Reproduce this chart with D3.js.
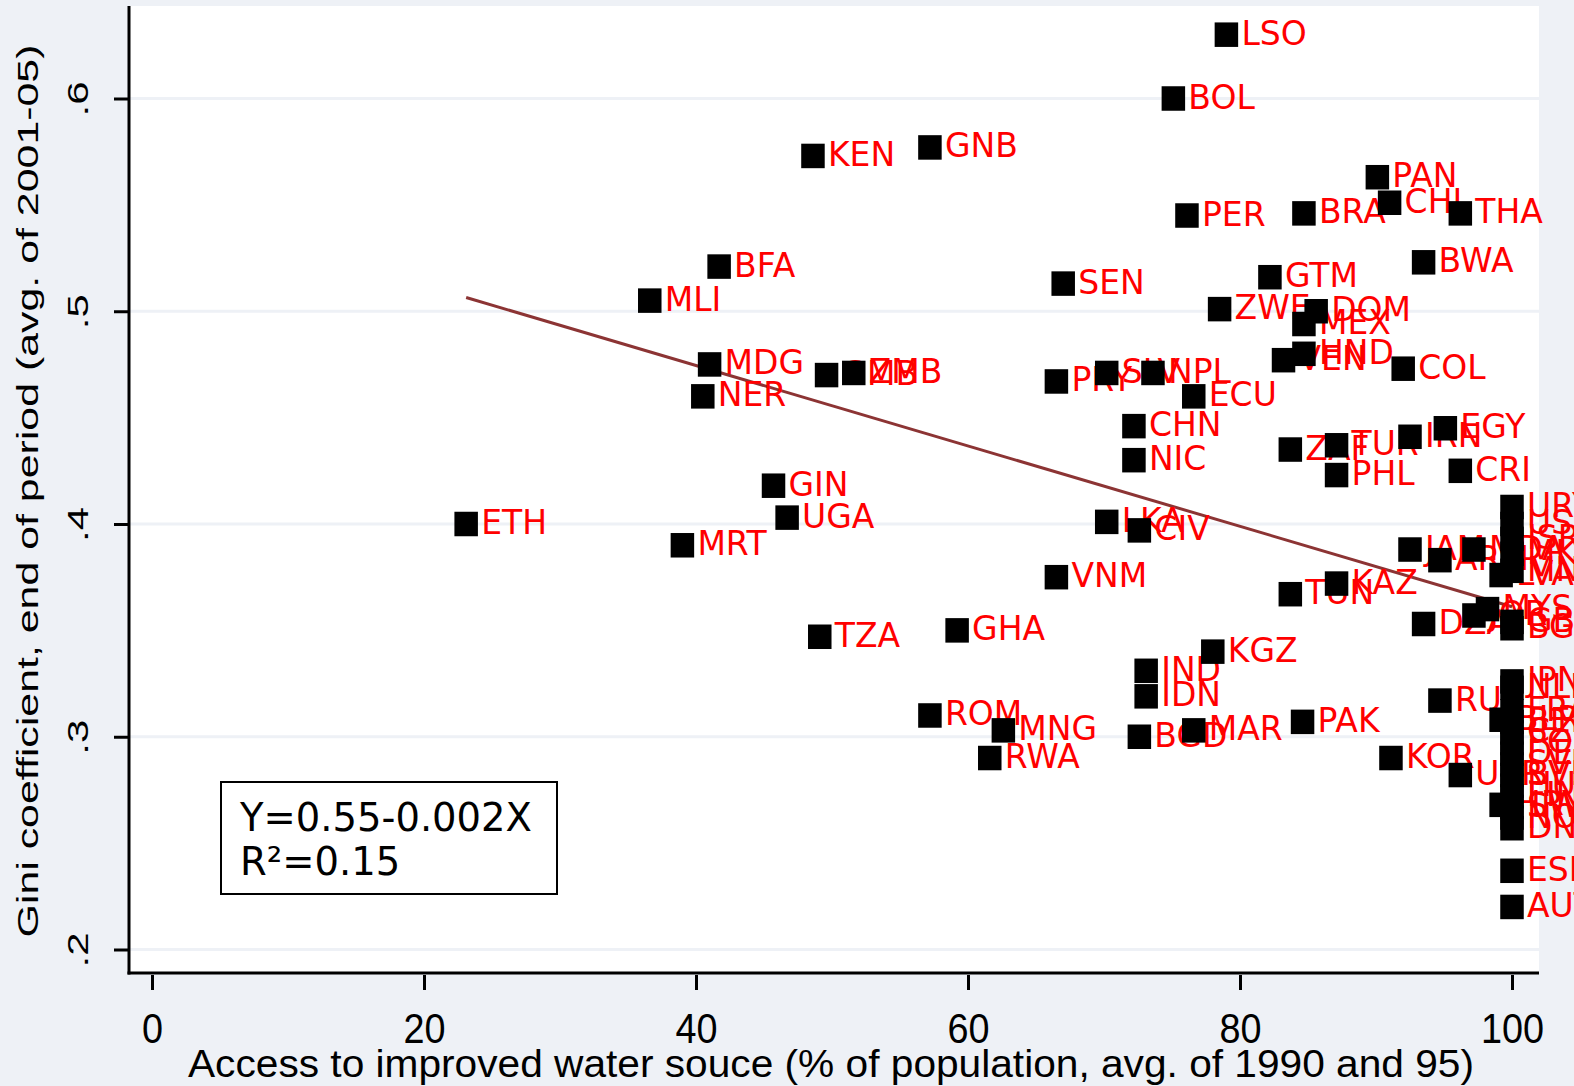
<!DOCTYPE html>
<html><head><meta charset="utf-8">
<script src="https://cdn.jsdelivr.net/npm/d3@7"></script>
<style>body{margin:0;background:#eef1f6;} svg{display:block}</style>
</head><body><svg id="c" width="1574" height="1086"></svg>
<script>
// ---- data ----
const codes = ["ETH","MLI","MRT","NER","MDG","BFA","GIN","UGA","KEN","TZA","GMB","ZMB","GNB","ROM","GHA","RWA","MNG","PRY","VNM","SEN","SLV","LKA","CHN","NIC","CIV","BGD","IND","IDN","NPL","BOL","PER","ECU","MAR","KGZ","ZWE","LSO","GTM","VEN","ZAF","TUN","PAK","BRA","MEX","HND","DOM","TUR","PHL","KAZ","PAN","CHL","KOR","COL","IRN","JAM","BWA","DZA","ARM","RUS","EGY","THA","CRI","UKR","MDA","JOR","MYS","LVA","BLR","HRV",
  "URY","USA","ISR","MKD","MNE","GBR","BGR","JPN","NLD","FRA","BEL","CZE","POL","DEU","SVK","SVN","HUN","FIN","SWE","NOR","DNK","ESP","AUT"];
const water = [23.1,36.6,39.0,40.5,41.0,41.7,45.7,46.7,48.6,49.1,49.6,51.6,57.2,57.2,59.2,61.6,62.6,66.5,66.5,67.0,70.2,70.2,72.2,72.2,72.6,72.6,73.1,73.1,73.6,75.1,76.1,76.6,76.6,78.0,78.5,79.0,82.2,83.2,83.7,83.7,84.6,84.7,84.7,84.7,85.6,87.1,87.1,87.1,90.1,91.0,91.1,92.0,92.5,92.5,93.5,93.5,94.7,94.7,95.1,96.2,96.2,96.2,97.2,97.2,98.2,99.2,99.2,99.2,
  100,100,100,100,100,100,100,100,100,100,100,100,100,100,100,100,100,100,100,100,100,100,100];
const gini = [0.400,0.505,0.390,0.460,0.475,0.521,0.418,0.403,0.573,0.347,0.470,0.471,0.577,0.310,0.350,0.290,0.303,0.467,0.375,0.513,0.471,0.401,0.446,0.430,0.397,0.300,0.331,0.319,0.471,0.600,0.545,0.460,0.303,0.340,0.501,0.630,0.516,0.477,0.435,0.367,0.307,0.546,0.494,0.480,0.500,0.437,0.423,0.372,0.563,0.551,0.290,0.473,0.441,0.388,0.523,0.353,0.383,0.317,0.445,0.546,0.425,0.282,0.388,0.357,0.360,0.376,0.308,0.268,
  0.408,0.400,0.393,0.386,0.378,0.354,0.351,0.326,0.323,0.312,0.307,0.302,0.297,0.292,0.287,0.282,0.277,0.272,0.267,0.262,0.257,0.237,0.220];
const xTicks = [0,20,40,60,80,100];
const yTicks = [0.2,0.3,0.4,0.5,0.6];
const yTickLabels = [".2",".3",".4",".5",".6"];
const fitIntercept = 0.5501, fitSlope = -0.00189;
const xTitle = "Access to improved water souce (% of population, avg. of 1990 and 95)";
const yTitle = "Gini coefficient, end of period (avg. of 2001-05)";
const noteLines = ["Y=0.55-0.002X","R\u00B2=0.15"];

// ---- layout ----
const svg = d3.select("#c");
const W = 1574, H = 1086;
const plot = {left:129, right:1539, top:6, bottom:973};
const x = d3.scaleLinear().domain([0,100]).range([152,1512]);
const y = d3.scaleLinear().domain([0.2,0.6]).range([949.5,98.5]);
const BG = "#eef1f6";

svg.append("rect").attr("width",W).attr("height",H).attr("fill",BG);
svg.append("rect").attr("x",plot.left).attr("y",plot.top)
  .attr("width",plot.right-plot.left).attr("height",plot.bottom-plot.top).attr("fill","#fff");

// gridlines
svg.append("g").selectAll("line").data(yTicks).join("line")
  .attr("x1",plot.left).attr("x2",plot.right)
  .attr("y1",d=>y(d)).attr("y2",d=>y(d))
  .attr("stroke",BG).attr("stroke-width",3);

// axes
const xAxis = d3.axisBottom(x).tickValues(xTicks).tickSize(15).tickPadding(0).tickFormat(d3.format("d"));
const gx = svg.append("g").attr("transform",`translate(0,${plot.bottom+2})`).call(xAxis);
gx.select(".domain").remove();
gx.selectAll(".tick line").attr("stroke","#000").attr("stroke-width",3);
gx.selectAll(".tick text").attr("y",68).attr("dy",null).attr("fill","#000")
  .attr("font-family","Liberation Sans, Arial, sans-serif").attr("font-size",42)
  .attr("transform","scale(0.9,1)");

const yAxis = d3.axisLeft(y).tickValues(yTicks).tickSize(15).tickFormat((d,i)=>yTickLabels[i]);
const gy = svg.append("g").attr("transform",`translate(${plot.left},0)`).call(yAxis);
gy.select(".domain").remove();
gy.selectAll(".tick line").attr("stroke","#000").attr("stroke-width",3);
gy.selectAll(".tick text").attr("x",null).attr("dy",null).attr("fill","#000")
  .attr("text-anchor","middle")
  .attr("font-family","Liberation Sans, Arial, sans-serif").attr("font-size",42)
  .attr("transform","translate(-41,0) rotate(-90) scale(1,0.72)");

svg.append("line").attr("x1",plot.left).attr("x2",plot.left).attr("y1",plot.top).attr("y2",plot.bottom+1.5)
  .attr("stroke","#000").attr("stroke-width",3);
svg.append("line").attr("x1",plot.left-1.5).attr("x2",plot.right).attr("y1",plot.bottom).attr("y2",plot.bottom)
  .attr("stroke","#000").attr("stroke-width",3);

// titles
svg.append("text").attr("x",831).attr("y",1077).attr("text-anchor","middle")
  .attr("font-family","Liberation Sans, Arial, sans-serif").attr("font-size",38)
  .attr("textLength",1286).attr("lengthAdjust","spacingAndGlyphs").text(xTitle);
svg.append("text").attr("transform","translate(38,491) rotate(-90) scale(1,0.74)")
  .attr("text-anchor","middle")
  .attr("font-family","Liberation Sans, Arial, sans-serif").attr("font-size",40)
  .attr("textLength",893).attr("lengthAdjust","spacingAndGlyphs").text(yTitle);

// fitted line
const xmin = d3.min(water), xmax = d3.max(water);
svg.append("line")
  .attr("x1",x(xmin)).attr("y1",y(fitIntercept+fitSlope*xmin))
  .attr("x2",x(xmax)).attr("y2",y(fitIntercept+fitSlope*xmax))
  .attr("stroke","#8c3434").attr("stroke-width",3);

// points + labels (drawn point by point, in order of access)
const pts = codes.map((c,i)=>({c, w:water[i], g:gini[i]})).sort((a,b)=>a.w-b.w);
const pg = svg.append("g");
pts.forEach(p=>{
  const cx = x(p.w), cy = y(p.g);
  pg.append("rect").attr("x",cx-11.75).attr("y",cy-12.25).attr("width",23.5).attr("height",24.5).attr("fill","#000");
  pg.append("text").attr("x",cx+15).attr("y",cy+10).attr("fill","#ff0000")
    .attr("font-family","DejaVu Sans, Verdana, sans-serif").attr("font-size",33).text(p.c);
});

// note box
const box = svg.append("g");
box.append("rect").attr("x",221).attr("y",782).attr("width",336).attr("height",112)
  .attr("fill","#fff").attr("stroke","#000").attr("stroke-width",2);
box.selectAll("text").data(noteLines).join("text")
  .attr("x",240).attr("y",(d,i)=>830.5+i*44.5)
  .attr("font-family","DejaVu Sans, Verdana, sans-serif").attr("font-size",38.5).attr("fill","#000")
  .text(d=>d);
</script></body></html>
